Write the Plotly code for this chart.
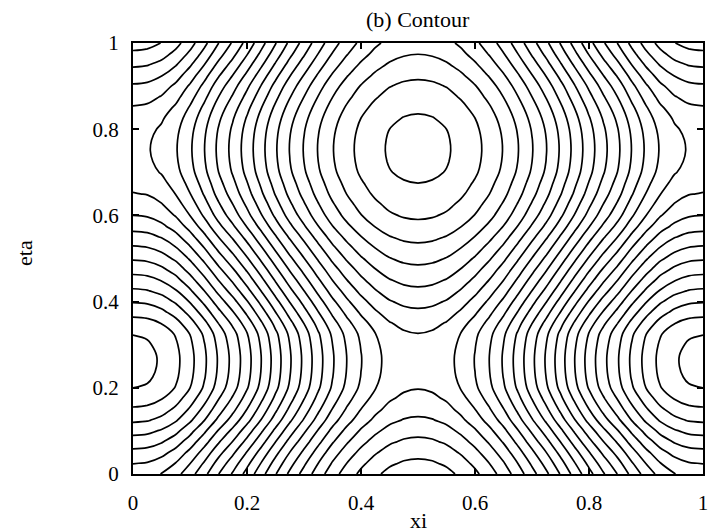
import numpy as np
import plotly.graph_objects as go

# Sample positions along each computational coordinate
xi_nodes = [0.000, 0.025, 0.050, 0.075, 0.100, 0.125, 0.150, 0.175, 0.200, 0.225,
            0.250, 0.275, 0.300, 0.325, 0.350, 0.375, 0.400, 0.425, 0.450, 0.475,
            0.500, 0.525, 0.550, 0.575, 0.600, 0.625, 0.650, 0.675, 0.700, 0.725,
            0.750, 0.775, 0.800, 0.825, 0.850, 0.875, 0.900, 0.925, 0.950, 0.975, 1.000]
eta_nodes = list(xi_nodes)

# Normalised variation of the field along xi (1 at the edges, -1 at the centre)
xi_shape = [1.000, 0.991, 0.957, 0.895, 0.801, 0.686, 0.555, 0.434, 0.300, 0.155,
            0.004, -0.147, -0.290, -0.436, -0.576, -0.697, -0.802, -0.887, -0.952, -0.988,
            -1.000, -0.988, -0.952, -0.887, -0.802, -0.697, -0.576, -0.436, -0.290, -0.147,
            0.004, 0.155, 0.300, 0.434, 0.555, 0.686, 0.801, 0.895, 0.957, 0.991, 1.000]

# Normalised variation of the field along eta (peak near 0.25, trough near 0.75)
eta_shape = [-0.164, -0.042, 0.097, 0.252, 0.409, 0.576, 0.712, 0.833, 0.936, 0.979,
             0.997, 0.997, 0.973, 0.930, 0.818, 0.676, 0.527, 0.373, 0.224, 0.076,
             -0.073, -0.221, -0.367, -0.512, -0.639, -0.736, -0.827, -0.894, -0.958, -0.988,
             -1.000, -0.994, -0.970, -0.924, -0.852, -0.761, -0.664, -0.542, -0.412, -0.282, -0.164]

# Field coefficients
amp_xi = 7.05        # xi term
amp_eta = 5.25       # eta term
amp_cross = 1.95     # xi*eta coupling
offset = -2.50
bend_mean = 0.80     # quadratic bend in xi near the centre line
bend_eta = -0.53     # its change with the eta shape

# Contour levels
level_start = -12.5
level_end = 12.5
level_step = 1.0

tick_values = [0, 0.2, 0.4, 0.6, 0.8, 1]
tick_labels = ["0", "0.2", "0.4", "0.6", "0.8", "1"]

X = np.array(xi_shape)[None, :]
Y = np.array(eta_shape)[:, None]
z = (amp_xi * X + amp_eta * Y + amp_cross * X * Y + offset
     + (bend_mean + bend_eta * Y) * (1 + X) ** 2)

font_family = "Liberation Serif, Times New Roman, serif"

fig = go.Figure(
    go.Contour(
        x=xi_nodes,
        y=eta_nodes,
        z=z,
        contours=dict(coloring="none", start=level_start, end=level_end, size=level_step),
        line=dict(color="black", width=1.7, smoothing=1.0),
        showscale=False,
        hoverinfo="skip",
    )
)

axis_style = dict(
    range=[0, 1],
    tickvals=tick_values,
    ticktext=tick_labels,
    ticks="inside",
    ticklen=6,
    tickwidth=1.5,
    tickcolor="black",
    showline=True,
    linecolor="black",
    linewidth=2,
    mirror="allticks",
    showgrid=False,
    zeroline=False,
    tickfont=dict(family=font_family, size=21, color="black"),
)

fig.update_layout(
    width=714,
    height=532,
    margin=dict(l=133, r=6, t=43, b=58),
    paper_bgcolor="white",
    plot_bgcolor="white",
    showlegend=False,
    xaxis=dict(**axis_style, ticklabelstandoff=9),
    yaxis=dict(**axis_style, ticklabelstandoff=8),
    annotations=[
        dict(text="(b) Contour", x=0.5, y=1 + 24 / 431, xref="paper", yref="paper",
             xanchor="center", yanchor="middle", showarrow=False,
             font=dict(family=font_family, size=22, color="black")),
        dict(text="xi", x=0.5, y=-46 / 431, xref="paper", yref="paper",
             xanchor="center", yanchor="middle", showarrow=False,
             font=dict(family=font_family, size=22, color="black")),
        dict(text="eta", x=-110 / 575, y=221 / 431, xref="paper", yref="paper",
             xanchor="center", yanchor="middle", showarrow=False, textangle=-90,
             font=dict(family=font_family, size=22, color="black")),
    ],
)

fig.write_html("out.html")
